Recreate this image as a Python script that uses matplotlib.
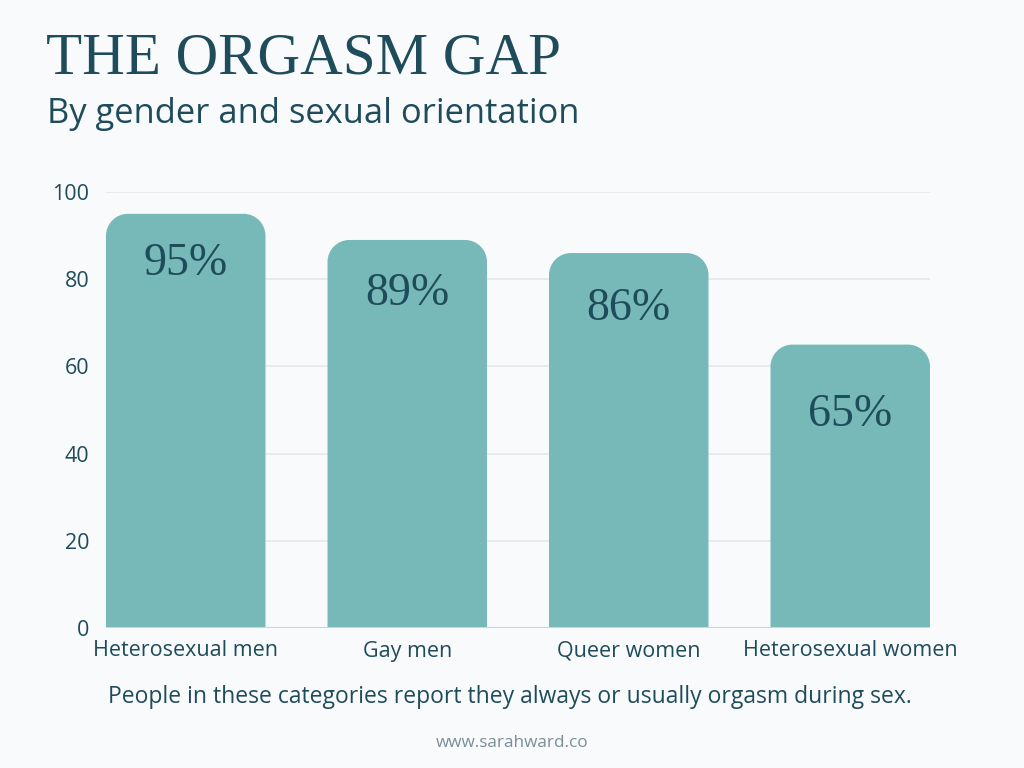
import matplotlib
matplotlib.use("Agg")
import matplotlib.pyplot as plt
from matplotlib.path import Path
from matplotlib.patches import PathPatch
from matplotlib.transforms import IdentityTransform

categories = ["Heterosexual men", "Gay men", "Queer women", "Heterosexual women"]
values = [95, 89, 86, 65]
value_labels = ["95%", "89%", "86%", "65%"]
y_ticks = [0, 20, 40, 60, 80, 100]

title = "THE ORGASM GAP"
subtitle = "By gender and sexual orientation"
footnote = "People in these categories report they always or usually orgasm during sex."
website = "www.sarahward.co"

BG = "#F8FAFC"
BAR = "#77B9B8"
DARK = "#1F4C5B"
GRID = "#E4E8EC"

fig = plt.figure(figsize=(10.24, 7.68), dpi=100, facecolor=BG)
ax = fig.add_axes([106/1024, 1 - 628/768, 824/1024, 436/768])
ax.set_facecolor(BG)

x = list(range(len(categories)))
width = 0.72
bars = ax.bar(x, values, width=width, color=BAR, zorder=2)
ax.set_xlim(-width/2, len(categories) - 1 + width/2)
ax.set_ylim(0, 100)

ax.set_yticks(y_ticks)
ax.set_yticklabels([str(t) for t in y_ticks], fontsize=15.5, color=DARK, family="Open Sans")
ax.set_xticks(x)
ax.set_xticklabels(categories, fontsize=15.5, color=DARK, family="Open Sans")
ax.tick_params(axis="y", length=0, pad=12)
ax.tick_params(axis="x", length=0, pad=9)
for s in ax.spines.values():
    s.set_visible(False)
ax.grid(axis="y", color=GRID, linewidth=1.2, zorder=0)
ax.axhline(0, color="#C9D4DB", linewidth=1.5, zorder=3)

fig.canvas.draw()
# replace rectangles with rounded-top shapes (computed in display space)
radius = 22
for b in bars:
    (x0, y0), (x1, y1) = ax.transData.transform([(b.get_x(), 0), (b.get_x() + b.get_width(), b.get_height())])
    r = min(radius, (x1 - x0) / 2, (y1 - y0))
    k = 0.5523 * r
    verts = [(x0, y0), (x0, y1 - r),
             (x0, y1 - r + k), (x0 + r - k, y1), (x0 + r, y1),
             (x1 - r, y1),
             (x1 - r + k, y1), (x1, y1 - r + k), (x1, y1 - r),
             (x1, y0), (x0, y0)]
    codes = [Path.MOVETO, Path.LINETO,
             Path.CURVE4, Path.CURVE4, Path.CURVE4,
             Path.LINETO,
             Path.CURVE4, Path.CURVE4, Path.CURVE4,
             Path.LINETO, Path.CLOSEPOLY]
    patch = PathPatch(Path(verts, codes), facecolor=BAR, edgecolor="none",
                      transform=IdentityTransform(), zorder=2, clip_on=False)
    ax.add_artist(patch)
    b.set_visible(False)

for xi, v, lab in zip(x, values, value_labels):
    ax.text(xi, 1.15 * v - 25.75, lab, ha="center", va="center", fontsize=33,
            family="Liberation Serif", color=DARK, zorder=5)

fig.text(46/1024, 1 - 60/768, title, ha="left", va="center", fontsize=42.5,
         family="Liberation Serif", color=DARK)
fig.text(47/1024, 1 - 114/768, subtitle, ha="left", va="center", fontsize=24.8,
         family="Open Sans", color=DARK, weight="medium")
fig.text(510/1024, 1 - 697/768, footnote, ha="center", va="center", fontsize=16.5,
         family="Open Sans", color=DARK, weight="medium")
fig.text(512/1024, 1 - 743/768, website, ha="center", va="center", fontsize=12.3,
         family="Open Sans", color="#7B8E98")

fig.savefig("out.png", dpi=100, facecolor=BG)
